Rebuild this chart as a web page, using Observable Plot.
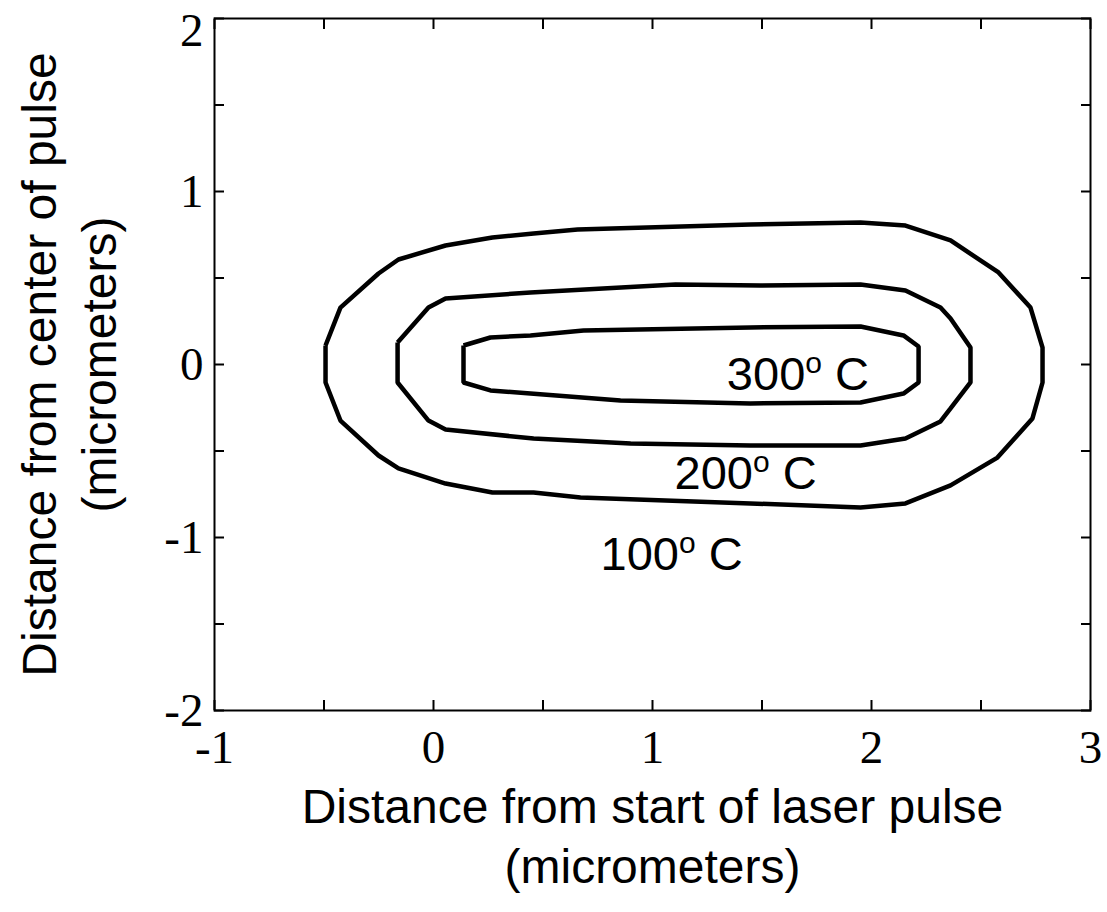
<!DOCTYPE html>
<html>
<head>
<meta charset="utf-8">
<script src="https://cdn.jsdelivr.net/npm/d3@7"></script>
<script src="https://cdn.jsdelivr.net/npm/@observablehq/plot@0.6"></script>
<style>
  html, body { margin: 0; padding: 0; background: #fff; }
  #chart svg { display: block; overflow: visible; }
</style>
</head>
<body>
<div id="chart"></div>
<script>
// ---- data ----
const levels = [100, 200, 300];
const levelLabels = ["100o C", "200o C", "300o C"];
const labelX = [1.087, 1.425, 1.664];
const labelY = [-1.098, -0.633, -0.058];

// contour vertices [x, y] in micrometers
const contour100 = [
  [-0.493, 0.110], [-0.425, 0.329], [-0.251, 0.526], [-0.160, 0.607], [0.055, 0.688],
  [0.269, 0.734], [0.457, 0.757], [0.658, 0.780], [1.447, 0.809], [1.950, 0.821],
  [2.155, 0.803], [2.361, 0.717], [2.580, 0.532], [2.726, 0.329], [2.781, 0.098],
  [2.781, -0.104], [2.735, -0.312], [2.575, -0.538], [2.361, -0.699], [2.155, -0.803],
  [1.950, -0.827], [1.447, -0.803], [0.671, -0.769], [0.457, -0.740], [0.269, -0.740],
  [0.055, -0.688], [-0.160, -0.601], [-0.251, -0.526], [-0.425, -0.324], [-0.493, -0.104]
];
const contour200 = [
  [-0.164, 0.127], [-0.023, 0.329], [0.055, 0.382], [0.443, 0.416], [1.105, 0.462],
  [1.493, 0.457], [1.950, 0.462], [2.155, 0.428], [2.315, 0.329], [2.361, 0.266],
  [2.452, 0.098], [2.452, -0.104], [2.361, -0.254], [2.315, -0.329], [2.155, -0.428],
  [1.950, -0.468], [1.447, -0.468], [0.900, -0.457], [0.457, -0.428], [0.055, -0.376],
  [-0.023, -0.324], [-0.164, -0.104]
];
const contour300 = [
  [0.137, 0.110], [0.260, 0.156], [0.443, 0.168], [0.685, 0.197], [1.447, 0.214],
  [1.950, 0.220], [2.146, 0.168], [2.215, 0.104], [2.215, -0.104], [2.146, -0.168],
  [1.950, -0.220], [1.447, -0.225], [0.854, -0.208], [0.443, -0.168], [0.260, -0.150],
  [0.137, -0.104]
];

const xTickLabels = [-1, 0, 1, 2, 3];
const yTickLabels = [-2, -1, 0, 1];
const yTopLabel = [2];
const xTicks = [-1, -0.5, 0, 0.5, 1, 1.5, 2, 2.5, 3];
const yTicks = [-2, -1.5, -1, -0.5, 0, 0.5, 1, 1.5, 2];
const xTitle = "Distance from start of laser pulse\n(micrometers)";
const yTitle = "Distance from center of pulse\n(micrometers)";

// ---- build table ----
const contours = [contour100, contour200, contour300];
const rows = [];
contours.forEach((pts, i) => {
  [...pts, pts[0]].forEach(([x, y]) => rows.push({level: levels[i], x, y}));
});
const labels = levels.map((l, i) => ({text: levelLabels[i], x: labelX[i], y: labelY[i]}));

const sans = "'Liberation Sans', Arial, Helvetica, sans-serif";
const serif = "'Liberation Serif', 'Times New Roman', Times, serif";

const chart = Plot.plot({
  width: 1107,
  height: 912,
  marginLeft: 214,
  marginRight: 17,
  marginTop: 18,
  marginBottom: 202,
  x: {domain: [-1, 3]},
  y: {domain: [-2, 2]},
  style: {background: "white", color: "black", fontFamily: sans, fontSize: "16px"},
  marks: [
    // inward ticks on all sides
    Plot.axisX({anchor: "bottom", ticks: xTicks, tickSize: -10, strokeWidth: 2, tickFormat: () => "", label: null}),
    Plot.axisX({anchor: "top", ticks: xTicks, tickSize: -10, strokeWidth: 2, tickFormat: () => "", label: null}),
    Plot.axisY({anchor: "left", ticks: yTicks, tickSize: -10, strokeWidth: 2, tickFormat: () => "", label: null}),
    Plot.axisY({anchor: "right", ticks: yTicks, tickSize: -10, strokeWidth: 2, tickFormat: () => "", label: null}),
    // tick labels
    Plot.axisX({anchor: "bottom", ticks: xTickLabels, tickSize: 0, tickPadding: 19, tickFormat: d => String(d), fontSize: 47, fontFamily: serif, label: null}),
    Plot.axisY({anchor: "left", ticks: yTickLabels, tickSize: 0, tickPadding: 11, tickFormat: d => String(d), fontSize: 47, fontFamily: serif, label: null}),
    Plot.axisY({anchor: "left", ticks: yTopLabel, tickSize: 0, tickPadding: 11, dy: 12, tickFormat: d => String(d), fontSize: 47, fontFamily: serif, label: null}),
    Plot.frame({stroke: "black", strokeWidth: 2}),
    Plot.line(rows, {x: "x", y: "y", z: "level", stroke: "black", strokeWidth: 4.5, strokeLinejoin: "miter", strokeLinecap: "butt"}),
    Plot.text(labels, {x: "x", y: "y", text: "text", fontSize: 47, fontFamily: sans, textAnchor: "middle", fill: "black"}),
    // axis titles
    Plot.text([xTitle], {frameAnchor: "bottom", text: d => d, dy: 123, textAnchor: "middle", lineAnchor: "middle", fontSize: 48, fontFamily: sans, lineHeight: 1.25, fill: "black"}),
    Plot.text([yTitle], {frameAnchor: "left", text: d => d, dx: -148, rotate: -90, textAnchor: "middle", lineAnchor: "middle", fontSize: 48, fontFamily: sans, lineHeight: 1.25, fill: "black"})
  ]
});

// superscript "o" in the contour labels
chart.querySelectorAll("text").forEach(t => {
  const s = t.textContent;
  const m = /^(\d+)o C$/.exec(s);
  if (m && !t.querySelector("tspan")) {
    t.textContent = "";
    const ns = "http://www.w3.org/2000/svg";
    const a = document.createElementNS(ns, "tspan"); a.textContent = m[1];
    const b = document.createElementNS(ns, "tspan"); b.textContent = "o";
    b.setAttribute("font-size", "30"); b.setAttribute("dy", "-17");
    const c = document.createElementNS(ns, "tspan"); c.textContent = " C";
    c.setAttribute("dy", "17");
    t.append(a, b, c);
  }
});

document.getElementById("chart").appendChild(chart);
</script>
</body>
</html>
